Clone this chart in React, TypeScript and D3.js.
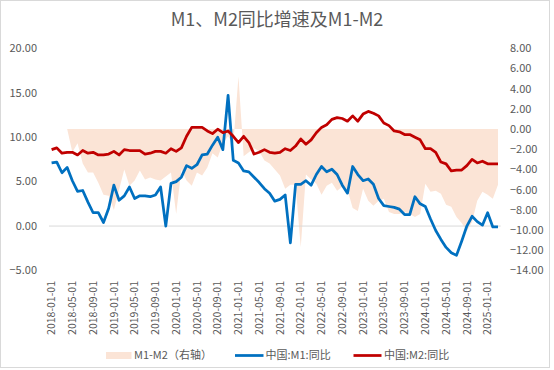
import * as d3 from "d3";

// monthly categories 2018-01 .. 2025-03
const months = d3.timeMonth.range(new Date(2018, 0, 1), new Date(2025, 3, 1));

const tickLabels = [
  "2018-01-01", "2018-05-01", "2018-09-01", "2019-01-01", "2019-05-01", "2019-09-01",
  "2020-01-01", "2020-05-01", "2020-09-01", "2021-01-01", "2021-05-01", "2021-09-01",
  "2022-01-01", "2022-05-01", "2022-09-01", "2023-01-01", "2023-05-01", "2023-09-01",
  "2024-01-01", "2024-05-01", "2024-09-01", "2025-01-01",
];

const m1 = [
  7.1, 7.2, 6.0, 6.6, 5.1, 3.9, 4.0, 2.7, 1.5, 1.5, 0.4, 2.0,
  4.6, 2.9, 3.4, 4.4, 3.1, 3.4, 3.4, 3.3, 3.5, 4.4, 0.0, 4.8,
  5.0, 5.5, 6.8, 6.5, 6.9, 8.0, 8.1, 9.1, 10.0, 8.6, 14.7, 7.4,
  7.1, 6.2, 6.1, 5.5, 4.9, 4.2, 3.7, 2.8, 3.0, 3.5, -1.9, 4.7,
  4.7, 5.1, 4.6, 5.8, 6.7, 6.1, 6.4, 5.8, 4.6, 3.7, 6.7, 5.8,
  5.1, 5.3, 4.7, 3.1, 2.3, 2.2, 2.1, 1.9, 1.3, 1.3, 3.3, 2.5,
  2.2, 0.8, -0.5, -1.5, -2.4, -3.0, -3.3, -1.7, 0.0, 1.1, 0.5, 0.1,
  1.5, -0.1, -0.1,
];

const m2 = [
  8.6, 8.8, 8.2, 8.3, 8.3, 8.0, 8.5, 8.2, 8.3, 8.0, 8.0, 8.1,
  8.4, 8.0, 8.6, 8.5, 8.5, 8.5, 8.1, 8.2, 8.4, 8.4, 8.2, 8.7,
  8.4, 8.8, 10.1, 11.1, 11.1, 11.1, 10.7, 10.4, 10.9, 10.5, 10.7, 10.1,
  9.4, 10.1, 9.4, 8.1, 8.3, 8.6, 8.3, 8.2, 8.3, 8.7, 8.5, 9.0,
  9.8, 9.2, 9.7, 10.5, 11.1, 11.4, 12.0, 12.2, 12.1, 11.8, 12.4, 11.8,
  12.6, 12.9, 12.7, 12.4, 11.6, 11.3, 10.7, 10.6, 10.3, 10.3, 10.0, 9.7,
  8.7, 8.7, 8.3, 7.2, 7.0, 6.2, 6.3, 6.3, 6.8, 7.5, 7.1, 7.3,
  7.0, 7.0, 7.0,
];

// M1-M2, right axis
const spread = [
  0, 0, 0, 0, -2.3, -1.4, -3.4, -4.3, -4.3, -5.3, -6.5, -6.6,
  -8.0, -6.0, -4.0, -5.6, -5.1, -4.1, -5.0, -4.8, -5.0, -5.1, -4.7, -4.3,
  -8.4, -4.0, -5.1, -5.6, -4.3, -4.6, -3.8, -2.4, -2.8, -1.4, -0.7, -1.5,
  5.2, -2.7, -2.3, -1.9, -2.2, -3.1, -3.4, -4.0, -4.6, -5.9, -5.5, -5.5,
  -11.7, -4.5, -5.0, -5.4, -6.5, -5.6, -5.3, -6.1, -5.7, -6.0, -7.8, -8.1,
  -5.9, -7.1, -7.6, -7.1, -6.9, -8.2, -8.4, -8.4, -8.2, -8.4, -8.7, -8.4,
  -5.4, -6.2, -6.1, -6.4, -7.5, -7.7, -8.7, -9.3, -10.1, -9.2, -7.1, -6.2,
  -6.5, -6.9, -5.5,
];

const leftTicks = [-5, 0, 5, 10, 15, 20];
const rightTicks = [-14, -12, -10, -8, -6, -4, -2, 0, 2, 4, 6, 8];

const W = 554;
const H = 370;
const BLUE = "#0070C0";
const RED = "#C00000";
const AREA = "#FBE4D6";
const TXT = "#595959";
const FONT = '"Noto Sans CJK SC", "Noto Sans", sans-serif';

export default function App() {
  const fmt = d3.format(".2f");
  const keys = months.map((d) => d3.timeFormat("%Y-%m-01")(d));

  const x = d3.scaleBand<string>().domain(keys).range([49, 500.6]);
  const cx = (i: number) => (x(keys[i]) as number) + x.bandwidth() / 2;

  const yL = d3.scaleLinear().domain([-5, 20]).range([270.5, 48.3]);
  const yR = d3.scaleLinear().domain([-14, 8]).range([270.5, 48.3]);

  const area = d3
    .area<number>()
    .x((_, i) => cx(i))
    .y0(yR(0))
    .y1((d) => yR(d));

  const line = d3
    .line<number>()
    .x((_, i) => cx(i))
    .y((d) => yL(d));

  return (
    <svg
      width={W}
      height={H}
      style={{ position: "absolute", left: 0, top: 0, background: "#fff" }}
      fontFamily={FONT}
    >
      <rect x={0.5} y={0.5} width={549} height={367} fill="#fff" stroke="#d9d9d9" />
      <text x={277} y={26} textAnchor="middle" fontSize={18} fill={TXT}>
        M1、M2同比增速及M1-M2
      </text>

      <path d={area(spread) ?? ""} fill={AREA} />
      <line x1={49} x2={500.6} y1={yL(0)} y2={yL(0)} stroke="#d9d9d9" strokeWidth={1} />

      <path d={line(m1) ?? ""} fill="none" stroke={BLUE} strokeWidth={2.75} strokeLinejoin="round" />
      <path d={line(m2) ?? ""} fill="none" stroke={RED} strokeWidth={2.75} strokeLinejoin="round" />

      {leftTicks.map((t) => (
        <text key={"l" + t} x={37} y={yL(t)} dy="0.35em" textAnchor="end" fontSize={11} fill={TXT}>
          {fmt(t)}
        </text>
      ))}
      {rightTicks.map((t) => (
        <text key={"r" + t} x={510} y={yR(t)} dy="0.35em" textAnchor="start" fontSize={11} fill={TXT}>
          {fmt(t)}
        </text>
      ))}

      {tickLabels.map((lab) => {
        const i = keys.indexOf(lab);
        return (
          <text
            key={lab}
            transform={`translate(${cx(i)},281) rotate(-90)`}
            dy="0.35em"
            textAnchor="end"
            fontSize={10.5}
            fill={TXT}
          >
            {lab}
          </text>
        );
      })}

      <g fontSize={11} fill={TXT}>
        <rect x={106} y={352} width={25.5} height={7} fill={AREA} />
        <text x={134} y={355.5} dy="0.35em">M1-M2（右轴）</text>
        <line x1={235} x2={263.5} y1={355.5} y2={355.5} stroke={BLUE} strokeWidth={2.75} />
        <text x={265.5} y={355.5} dy="0.35em">中国:M1:同比</text>
        <line x1={353.5} x2={381.5} y1={355.5} y2={355.5} stroke={RED} strokeWidth={2.75} />
        <text x={384} y={355.5} dy="0.35em">中国:M2:同比</text>
      </g>
    </svg>
  );
}
